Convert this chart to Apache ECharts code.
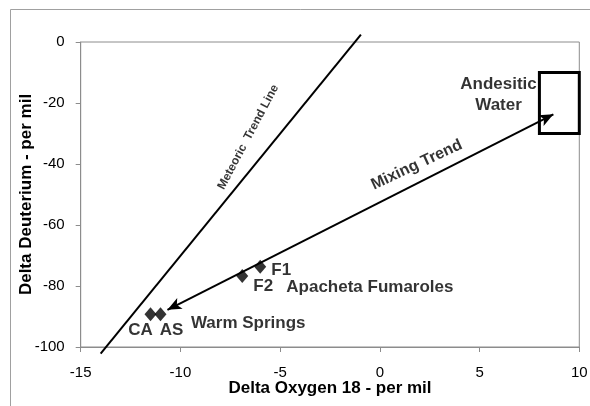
<!DOCTYPE html>
<html>
<head>
<meta charset="utf-8">
<script src="https://cdn.jsdelivr.net/npm/echarts@6/dist/echarts.min.js"></script>
<style>
html,body{margin:0;padding:0;background:#fff;}
#chart{width:590px;height:406px;}
</style>
</head>
<body>
<div id="chart"></div>
<script>
// ---- data ----
const xTicks = [-15, -10, -5, 0, 5, 10];
const yTicks = [-100, -80, -60, -40, -20, 0];
const sampleNames = ['F1', 'F2', 'CA', 'AS'];
const sampleO18 = [-6.0, -6.9, -11.5, -11.0];
const sampleDD = [-73.7, -76.7, -89.3, -89.3];
const meteoricO18 = [-14.0, -0.95];
const meteoricDD = [-102.2, 2.4];
const mixingO18 = [8.7, -10.65];
const mixingDD = [-23.7, -87.8];
const andesiticO18 = [8, 10];
const andesiticDD = [-10, -30];
const annotationText = ['Apacheta Fumaroles', 'Warm Springs', 'Andesitic\nWater', 'Meteoric  Trend Line', 'Mixing Trend'];
const annotationO18 = [-0.5, -6.6, 5.95, -6.6, 1.85];
const annotationDD = [-80.3, -92.3, -17.3, -31.2, -40.3];

// ---- styles ----
const FONT = 'Liberation Sans, Arial, sans-serif';
const labelOffsets = {F1: [21, 4], F2: [21, 10], CA: [-10, 16], AS: [11, 16]};
const annotationRotate = [0, 0, 0, 62, 25];
const annotationSize = [17, 17, 17, 12, 16];

const chart = echarts.init(document.getElementById('chart'), null, {renderer: 'canvas'});

const samplePoints = sampleNames.map((n, i) => ({
  name: n,
  value: [sampleO18[i], sampleDD[i]],
  label: {
    show: true, formatter: n, position: 'inside', offset: labelOffsets[n],
    color: '#000', fontFamily: FONT, fontWeight: 'bold', fontSize: 17
  }
}));

const annotations = annotationText.map((t, i) => ({
  value: [annotationO18[i], annotationDD[i]],
  label: {
    show: true, formatter: t, position: 'inside', rotate: annotationRotate[i],
    color: '#000', fontFamily: FONT, fontWeight: 'bold', fontSize: annotationSize[i],
    lineHeight: 21, align: 'center', verticalAlign: 'middle'
  }
}));

const axisColor = '#8c8c8c';

chart.setOption({
  animation: false,
  backgroundColor: '#fff',
  graphic: [{
    type: 'rect', shape: {x: 10.5, y: 9.5, width: 600, height: 420},
    style: {fill: null, stroke: '#a0a0a0', lineWidth: 1}, silent: true, z: -10
  }],
  grid: {
    left: 80.7, right: 10.7, top: 42, bottom: 59,
    outerBoundsMode: 'none', containLabel: false,
    show: true, borderColor: axisColor, borderWidth: 1, backgroundColor: 'transparent'
  },
  xAxis: {
    type: 'value', min: xTicks[0], max: xTicks[xTicks.length - 1], interval: 5,
    name: 'Delta Oxygen 18 - per mil', nameLocation: 'middle', nameGap: 33, nameMoveOverlap: false,
    nameTextStyle: {color: '#000', fontFamily: FONT, fontWeight: 'bold', fontSize: 17},
    axisLine: {show: true, onZero: false, lineStyle: {color: axisColor, width: 1}},
    axisTick: {show: true, inside: false, length: 5, lineStyle: {color: axisColor}},
    axisLabel: {color: '#000', fontFamily: FONT, fontSize: 15, margin: 18},
    splitLine: {show: false}
  },
  yAxis: {
    type: 'value', min: yTicks[0], max: yTicks[yTicks.length - 1], interval: 20,
    name: 'Delta Deuterium - per mil', nameLocation: 'middle', nameGap: 46, nameRotate: 90, nameMoveOverlap: false,
    nameTextStyle: {color: '#000', fontFamily: FONT, fontWeight: 'bold', fontSize: 17},
    axisLine: {show: true, onZero: false, lineStyle: {color: axisColor, width: 1}},
    axisTick: {show: true, inside: false, length: 5, lineStyle: {color: axisColor}},
    axisLabel: {color: '#000', fontFamily: FONT, fontSize: 15, margin: 16},
    splitLine: {show: false}
  },
  series: [
    {
      type: 'line', name: 'Meteoric', clip: false, symbol: 'none',
      data: meteoricO18.map((x, i) => [x, meteoricDD[i]]),
      lineStyle: {color: '#000', width: 2}, silent: true, z: 3
    },
    {
      type: 'line', name: 'Mixing', data: [], symbol: 'none',
      markLine: {
        silent: true, symbol: ['arrow', 'arrow'], symbolSize: [9, 14], precision: 4,
        label: {show: false},
        lineStyle: {color: '#000', width: 2, type: 'solid'},
        data: [[{coord: [mixingO18[0], mixingDD[0]]}, {coord: [mixingO18[1], mixingDD[1]]}]]
      },
      markArea: {
        silent: true,
        itemStyle: {color: 'rgba(0,0,0,0)', borderColor: '#000', borderWidth: 3},
        data: [[{coord: [andesiticO18[0], andesiticDD[0]]}, {coord: [andesiticO18[1], andesiticDD[1]]}]]
      }
    },
    {
      type: 'scatter', name: 'Samples', symbol: 'diamond', symbolSize: [12, 14],
      itemStyle: {color: '#000'}, data: samplePoints, z: 5
    },
    {
      type: 'scatter', name: 'Annotations', symbolSize: 0, data: annotations, z: 6, silent: true
    }
  ]
});
</script>
</body>
</html>
